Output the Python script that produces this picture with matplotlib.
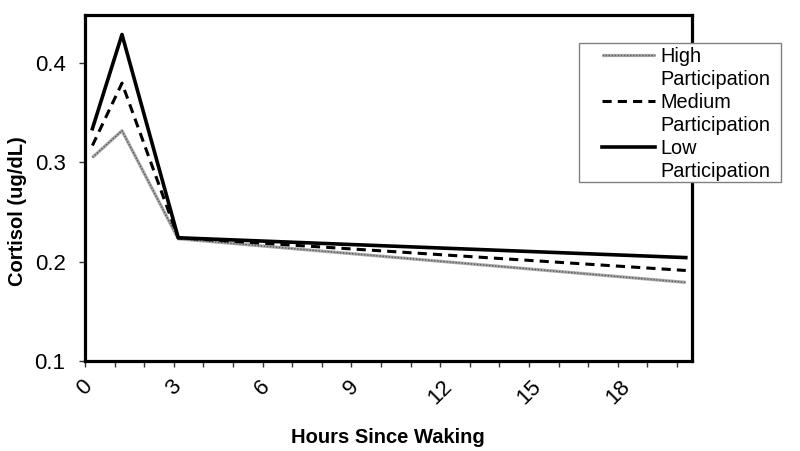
import matplotlib
matplotlib.use("Agg")
import matplotlib.pyplot as plt
from matplotlib.lines import Line2D
from matplotlib.patches import Rectangle

plt.rcParams['font.family'] = ['Liberation Sans', 'DejaVu Sans']

# Data
hours = [0.25, 1.25, 3.15, 20.3]
high = [0.305, 0.332, 0.223, 0.179]
medium = [0.317, 0.380, 0.224, 0.191]
low = [0.334, 0.429, 0.224, 0.204]
x_ticks = list(range(0, 21))
x_labels = [str(t) if t % 3 == 0 and t <= 18 else "" for t in x_ticks]
y_ticks = [0.1, 0.2, 0.3, 0.4]
y_labels = ["0.1", "0.2", "0.3", "0.4"]

W, H = 800, 451
fig = plt.figure(figsize=(8, 4.51), dpi=100)
ax = fig.add_axes([85/W, 1-360.7/H, (691.7-85)/W, (360.7-14.7)/H])

h_base, = ax.plot(hours, high, color='#a8a8a8', lw=2.3, solid_capstyle='butt')
h_tex, = ax.plot(hours, high, color='#5a5a5a', lw=1.0, linestyle=(0, (1, 1.2)))
m_line, = ax.plot(hours, medium, color='black', lw=2.2, linestyle=(0, (3, 2)))
l_line, = ax.plot(hours, low, color='black', lw=2.6)

ax.set_xlim(0, 20.5)
ax.set_ylim(0.1, 0.449)
ax.set_xticks(x_ticks)
ax.set_xticklabels(x_labels, rotation=45, ha='center', fontsize=16)
ax.set_yticks(y_ticks)
ax.set_yticklabels(y_labels, fontsize=16)
ax.tick_params(axis='both', direction='out', length=4, width=1, color='#333333')
ax.tick_params(axis='y', pad=10)
ax.tick_params(axis='x', pad=7)
for s in ax.spines.values():
    s.set_linewidth(2.3)
    s.set_color('black')

ax.set_xlabel("Hours Since Waking", fontsize=14.5, fontweight='bold', va='center')
ax.xaxis.set_label_coords(0.5, -0.222)
ax.set_ylabel("Cortisol (ug/dL)", fontsize=14.5, fontweight='bold', va='center')
ax.yaxis.set_label_coords(-0.1105, 0.433)

blank = Line2D([], [], color='none')
handles = [(h_base, h_tex), blank, m_line, blank, l_line, blank]
labels = ["High", "Participation", "Medium", "Participation", "Low", "Participation"]
leg = fig.legend(handles, labels, loc='upper left', bbox_to_anchor=(601.7/W, 1-47/H),
                 fontsize=14.3, frameon=False, handlelength=2.7, handletextpad=0.25,
                 labelspacing=0.2, borderpad=0.0, borderaxespad=0)

fig.add_artist(Rectangle((579/W, 1-181.7/H), (781-579)/W, (181.7-42.7)/H,
                         transform=fig.transFigure, facecolor='white',
                         edgecolor='#808080', lw=1.0, zorder=2))
leg.set_zorder(3)

fig.savefig("out.png", dpi=100, facecolor='white')
